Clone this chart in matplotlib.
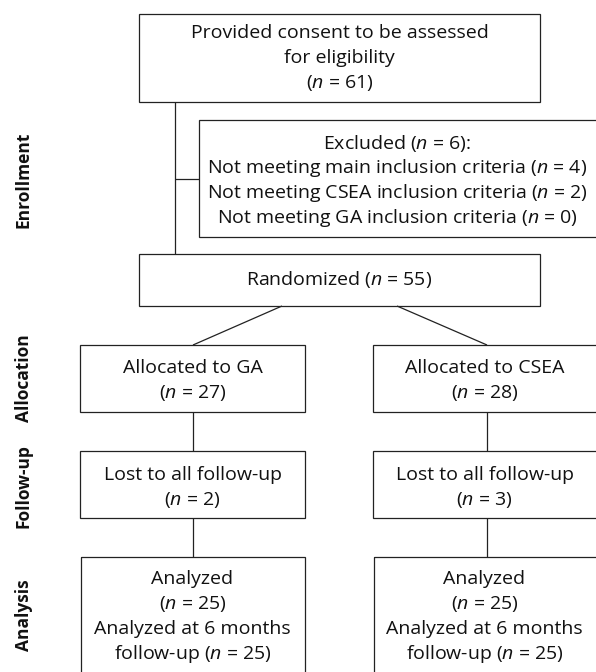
import matplotlib.pyplot as plt
from matplotlib.patches import Rectangle

# counts
n_consent = 61
n_excluded = 6
excl_reasons = ["main", "CSEA", "GA"]
excl_counts = [4, 2, 0]
n_randomized = 55
groups = ["GA", "CSEA"]
n_allocated = [27, 28]
n_lost = [2, 3]
n_analyzed = [25, 25]
n_analyzed_6m = [25, 25]
stages = ["Enrollment", "Allocation", "Follow-up", "Analysis"]

plt.rcParams['font.family'] = ['Open Sans', 'DejaVu Sans']
plt.rcParams['mathtext.fontset'] = 'custom'
plt.rcParams['mathtext.rm'] = 'Open Sans'
plt.rcParams['mathtext.it'] = 'Open Sans:italic'

W, H = 596, 672
fig = plt.figure(figsize=(W / 100, H / 100), dpi=100)
ax = fig.add_axes([0, 0, 1, 1])
ax.set_xlim(0, W)
ax.set_ylim(H, 0)
ax.axis('off')

LC = '#222222'
TC = '#111111'
FS = 14
LW = 0.9
STEP = 25


def box(x0, y0, x1, y1):
    ax.add_patch(Rectangle((x0, y0), x1 - x0, y1 - y0, fill=False,
                           edgecolor=LC, linewidth=LW, clip_on=False))


def lines_at(xc, y_first, lines):
    for i, s in enumerate(lines):
        ax.text(xc, y_first + i * STEP, s, ha='center', va='center',
                fontsize=FS, color=TC)


def line(xs, ys):
    ax.plot(xs, ys, color=LC, linewidth=LW, solid_capstyle='butt')


def nstr(v):
    return r"($n$ = %d)" % v


# enrollment
box(139, 14, 540, 102)
lines_at(339.5, 33, ["Provided consent to be assessed", "for eligibility",
                     nstr(n_consent)])
line([175, 175], [102, 254])
line([175, 199], [179, 179])
box(199, 120, 597, 237)
excl_lines = ["Excluded (%s):" % r"$n$ = %d" % n_excluded]
for r, c in zip(excl_reasons, excl_counts):
    excl_lines.append("Not meeting %s inclusion criteria %s" % (r, nstr(c)))
lines_at(397, 143, excl_lines)
box(139, 254, 540, 306)
lines_at(339.5, 280, ["Randomized " + nstr(n_randomized)])

# branches
col_left = [80, 373]
col_right = [305, 597]
col_line = [193, 487]
split_x = [282, 397]
for i, g in enumerate(groups):
    xc = (col_left[i] + min(col_right[i], 596)) / 2
    line([split_x[i], col_line[i]], [306, 345])
    box(col_left[i], 345, col_right[i], 412)
    lines_at(xc, 368, ["Allocated to " + g, nstr(n_allocated[i])])
    line([col_line[i], col_line[i]], [412, 451])
    box(col_left[i], 451, col_right[i], 518)
    lines_at(xc, 475, ["Lost to all follow-up", nstr(n_lost[i])])
    line([col_line[i], col_line[i]], [518, 557])
    box(col_left[i] + 1, 557, col_right[i], 700)
    lines_at(xc, 579, ["Analyzed", nstr(n_analyzed[i]),
                       "Analyzed at 6 months",
                       "follow-up " + nstr(n_analyzed_6m[i])])

# stage labels
stage_y = [180, 378, 486, 615]
for s, y in zip(stages, stage_y):
    ax.text(24, y, s, rotation=90, ha='center', va='center',
            fontsize=12.5, fontweight='bold', color=TC)

fig.savefig("out.png", dpi=100)
